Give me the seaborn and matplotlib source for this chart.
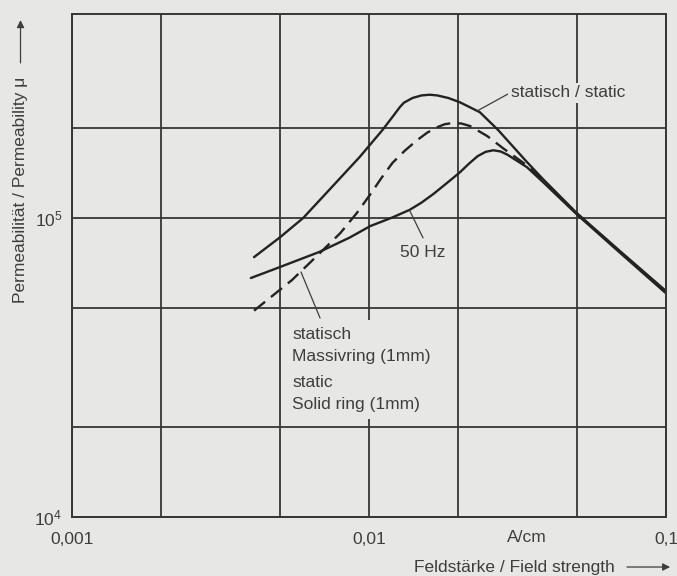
import matplotlib
matplotlib.use("Agg")
import matplotlib.pyplot as plt
from matplotlib.ticker import NullLocator
import pandas as pd
import seaborn as sns

# ---------------- data ----------------
static_h = [0.0041, 0.0050, 0.0060, 0.0075, 0.0093, 0.0111, 0.0120, 0.0127, 0.0131,
            0.0140, 0.0150, 0.0160, 0.0170, 0.0185, 0.0202, 0.0236, 0.0272, 0.0340,
            0.0385, 0.0500, 0.0700, 0.1000]
static_mu = [7.4e4, 8.6e4, 1.00e5, 1.27e5, 1.60e5, 1.97e5, 2.18e5, 2.35e5, 2.43e5,
             2.52e5, 2.57e5, 2.585e5, 2.57e5, 2.52e5, 2.44e5, 2.26e5, 1.97e5, 1.54e5,
             1.35e5, 1.04e5, 7.75e4, 5.7e4]

solid_h = [0.0041, 0.0055, 0.0068, 0.0080, 0.0091, 0.0101, 0.0110, 0.0120, 0.0132,
           0.0145, 0.0157, 0.0169, 0.0180, 0.0192, 0.0205, 0.0219, 0.0250, 0.0283,
           0.0340, 0.0385, 0.0500, 0.0700, 0.1000]
solid_mu = [4.9e4, 6.2e4, 7.6e4, 8.9e4, 1.04e5, 1.20e5, 1.36e5, 1.53e5, 1.68e5,
            1.82e5, 1.93e5, 2.01e5, 2.06e5, 2.08e5, 2.07e5, 2.03e5, 1.88e5, 1.71e5,
            1.50e5, 1.34e5, 1.035e5, 7.7e4, 5.65e4]

hz50_h = [0.0040, 0.0050, 0.0068, 0.0086, 0.0101, 0.0120, 0.0137, 0.0150, 0.0165,
          0.0183, 0.0202, 0.0217, 0.0232, 0.0247, 0.0262, 0.0277, 0.0292, 0.0340,
          0.0385, 0.0500, 0.0700, 0.1000]
hz50_mu = [6.3e4, 6.85e4, 7.7e4, 8.6e4, 9.4e4, 1.005e5, 1.065e5, 1.125e5, 1.205e5,
           1.31e5, 1.42e5, 1.52e5, 1.61e5, 1.665e5, 1.685e5, 1.67e5, 1.63e5, 1.48e5,
           1.32e5, 1.03e5, 7.65e4, 5.6e4]

curve_names = ["statisch / static", "Massivring (1mm)", "50 Hz"]

x_ticks = [0.001, 0.002, 0.005, 0.01, 0.02, 0.05, 0.1]
x_tick_labels = ["0,001", "", "", "0,01", "", "", "0,1"]
y_ticks = [1e4, 2e4, 5e4, 1e5, 2e5]
y_tick_labels = [r"$\mathregular{10^{4}}$", "", "", r"$\mathregular{10^{5}}$", ""]

unit_label = "A/cm"
x_label = "Feldstärke / Field strength"
y_label = "Permeabilität / Permeability μ"
label_static = "statisch / static"
label_50hz = "50 Hz"
label_solid_de = "statisch\nMassivring (1mm)"
label_solid_en = "static\nSolid ring (1mm)"

# ---------------- style ----------------
BG = "#e7e7e5"
INK = "#232323"
GRID = "#363636"
TXT = "#3e3e3e"
FS = 12.5

sns.set_theme(style="white")
plt.rcParams["font.family"] = ["Liberation Sans", "DejaVu Sans"]
plt.rcParams["mathtext.fontset"] = "custom"
plt.rcParams["mathtext.rm"] = "Liberation Sans"

fig = plt.figure(figsize=(6.77, 5.76), dpi=100, facecolor=BG)
ax = fig.add_axes([0.1064, 0.1024, 0.8774, 0.8741])
ax.set_facecolor(BG)
ax.set_xscale("log")
ax.set_yscale("log")

df = pd.concat([
    pd.DataFrame({"H": static_h, "mu": static_mu, "curve": curve_names[0]}),
    pd.DataFrame({"H": solid_h, "mu": solid_mu, "curve": curve_names[1]}),
    pd.DataFrame({"H": hz50_h, "mu": hz50_mu, "curve": curve_names[2]}),
], ignore_index=True)

sns.lineplot(data=df, x="H", y="mu", hue="curve", style="curve",
             palette={n: INK for n in curve_names},
             dashes={curve_names[0]: "", curve_names[1]: (6, 3.2), curve_names[2]: ""},
             estimator=None, sort=True, legend=False, linewidth=1.7, ax=ax)
for ln in ax.lines:
    ln.set_solid_joinstyle("round")
    ln.set_dash_joinstyle("round")

ax.set_xlim(0.001, 0.1)
ax.set_ylim(1e4, 4.83e5)
ax.set_xticks(x_ticks, x_tick_labels)
ax.set_yticks(y_ticks, y_tick_labels)
ax.xaxis.set_minor_locator(NullLocator())
ax.yaxis.set_minor_locator(NullLocator())
ax.tick_params(axis="both", which="major", direction="out", length=4, width=1.3,
               color=GRID, labelsize=FS, labelcolor=TXT)
ax.tick_params(axis="x", pad=7)
ax.tick_params(axis="y", pad=3)
ax.set_xlabel("")
ax.set_ylabel("")
ax.grid(True, which="major", color=GRID, linewidth=1.3)
ax.set_axisbelow(True)
for s in ax.spines.values():
    s.set_color(GRID)
    s.set_linewidth(1.4)

# unit label on the x axis
ax.text(0.034, -0.040, unit_label, transform=ax.get_xaxis_transform(),
        ha="center", va="center", fontsize=FS, color=TXT)

# annotations
box = dict(boxstyle="square,pad=0.15", fc=BG, ec="none")
box_big = dict(boxstyle="square,pad=0.4", fc=BG, ec="none")
leader = dict(arrowstyle="-", color=TXT, lw=0.9, shrinkA=0, shrinkB=0)

ax.annotate("", xy=(0.0231, 2.28e5), xytext=(0.0298, 2.62e5), arrowprops=leader)
ax.text(0.0300, 2.62e5, label_static, ha="left", va="center", fontsize=FS,
        color=TXT, bbox=box, zorder=4)

ax.annotate("", xy=(0.0137, 1.06e5), xytext=(0.0152, 8.58e4), arrowprops=leader)
ax.text(0.0127, 7.64e4, label_50hz, ha="left", va="center", fontsize=FS,
        color=TXT, bbox=box, zorder=4)

ax.annotate("", xy=(0.0059, 6.6e4), xytext=(0.00684, 4.63e4), arrowprops=leader)
ax.text(0.00551, 2.98e4, label_solid_en, ha="left", va="top", fontsize=FS,
        color=TXT, linespacing=1.55, bbox=box_big, zorder=4)
ax.text(0.00551, 4.32e4, label_solid_de, ha="left", va="top", fontsize=FS,
        color=TXT, linespacing=1.55, bbox=box_big, zorder=5)

# axis titles with arrows
fig.text(0.9084, 0.0156, x_label, ha="right", va="center", fontsize=FS, color=TXT)
ax.annotate("", xy=(0.994, 0.0156), xytext=(0.922, 0.0156), xycoords="figure fraction",
            textcoords="figure fraction",
            arrowprops=dict(arrowstyle="-|>", color=TXT, lw=0.9, mutation_scale=11))

fig.text(0.0303, 0.8663, y_label, rotation=90, ha="center", va="top",
         fontsize=FS, color=TXT)
ax.annotate("", xy=(0.0303, 0.970), xytext=(0.0303, 0.886), xycoords="figure fraction",
            textcoords="figure fraction",
            arrowprops=dict(arrowstyle="-|>", color=TXT, lw=0.9, mutation_scale=11))

fig.savefig("out.png", dpi=100, facecolor=BG)
